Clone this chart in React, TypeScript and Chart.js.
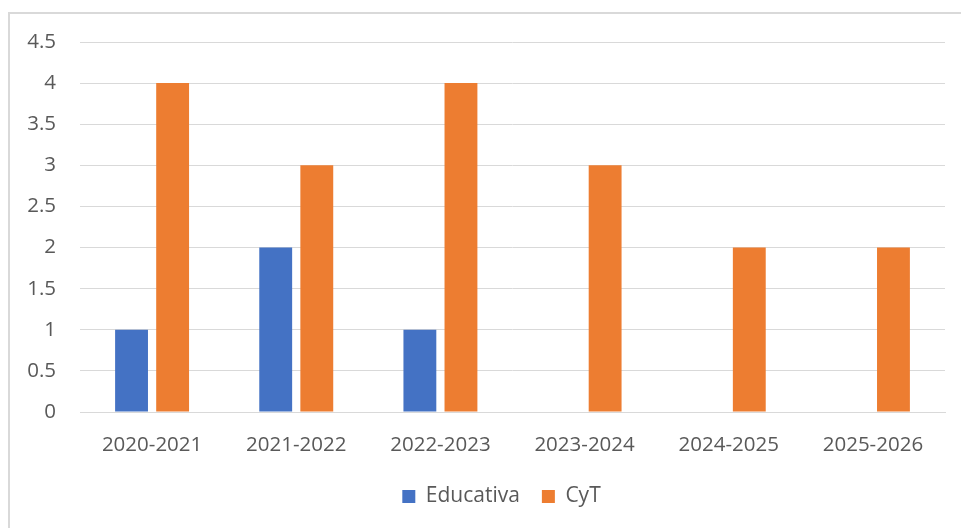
import React, { useEffect, useRef } from "react";
import { Chart, registerables } from "chart.js";

Chart.register(...registerables);

const categories = ["2020-2021", "2021-2022", "2022-2023", "2023-2024", "2024-2025", "2025-2026"];
const educativa = [1, 2, 1, 0, 0, 0];
const cyt = [4, 3, 4, 3, 2, 2];

const legendShift = {
  id: "legendShift",
  beforeDraw(chart: any) {
    const lg = chart.legend;
    if (lg && !lg._shifted) {
      lg.left += 24;
      lg.right += 24;
      lg._shifted = true;
    }
  },
};

export default function App() {
  const ref = useRef<HTMLCanvasElement | null>(null);
  useEffect(() => {
    if (!ref.current) return;
    const font = { family: "'Open Sans', sans-serif", size: 20.5 };
    const chart = new Chart(ref.current, {
      type: "bar",
      data: {
        labels: categories,
        datasets: [
          { label: "Educativa", data: educativa, backgroundColor: "#4472C4", categoryPercentage: 0.57, barPercentage: 0.8 },
          { label: "CyT", data: cyt, backgroundColor: "#ED7D31", categoryPercentage: 0.57, barPercentage: 0.8 },
        ],
      },
      plugins: [legendShift],
      options: {
        animation: false,
        responsive: false,
        layout: { padding: { top: 28, right: 16, bottom: 11, left: 0 } },
        plugins: {
          tooltip: { enabled: false },
          legend: {
            position: "bottom",
            labels: { boxWidth: 13, boxHeight: 13, padding: 22, color: "#595959", font: { family: "'Open Sans', sans-serif", size: 21 } },
          },
        },
        scales: {
          x: {
            grid: { display: false, drawTicks: false },
            border: { display: true, color: "#d9d9d9" },
            ticks: { color: "#595959", font, padding: 21 },
            afterFit: (s: any) => { s.height = 52; },
          },
          y: {
            min: 0,
            max: 4.5,
            ticks: {
              stepSize: 0.5,
              color: "#595959",
              font,
              padding: 0,
              callback: (v: any) => String(Number(v)),
            },
            grid: { color: "#d9d9d9", drawTicks: true, tickLength: 24, tickColor: "rgba(0,0,0,0)" },
            border: { display: false },
            afterFit: (s: any) => { s.width = 70; },
          },
        },
      },
    });
    return () => chart.destroy();
  }, []);
  return (
    <div
      style={{
        position: "absolute",
        left: 8,
        top: 12,
        width: 953,
        height: 516,
        borderLeft: "2px solid #d9d9d9",
        borderTop: "2px solid #d9d9d9",
        boxSizing: "border-box",
        background: "#fff",
      }}
    >
      <canvas ref={ref} width={951} height={514} style={{ display: "block" }} />
    </div>
  );
}
